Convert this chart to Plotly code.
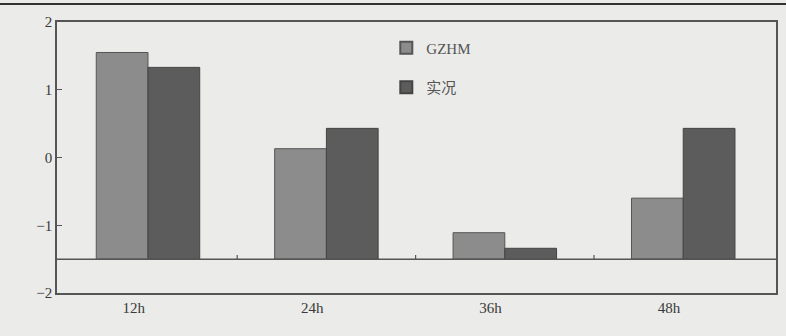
import plotly.graph_objects as go

categories = ["12h", "24h", "36h", "48h"]
gzhm = [1.55, 0.13, -1.11, -0.60]
actual = [1.33, 0.43, -1.34, 0.43]
base_value = -1.5
y_ticks = [2, 1, 0, -1, -2]
y_tick_text = ["2", "1", "0", "\u22121", "\u22122"]

xpos = list(range(len(categories)))

fig = go.Figure()
fig.add_trace(go.Bar(
    x=xpos, y=[v - base_value for v in gzhm], base=base_value, name="GZHM", legendgroup="a",
    marker=dict(color="#8c8c8c", line=dict(color="#555555", width=1)),
    offset=-0.29, width=0.29,
))
fig.add_trace(go.Bar(
    x=xpos, y=[v - base_value for v in actual], base=base_value, name="实况", legendgroup="b",
    marker=dict(color="#5c5c5c", line=dict(color="#444444", width=1)),
    offset=0.0, width=0.29,
))

shapes = [
    dict(type="line", xref="paper", yref="y", x0=0, x1=1, y0=base_value, y1=base_value,
         line=dict(color="#555555", width=1.5)),
    dict(type="line", xref="paper", yref="paper", x0=-0.08, x1=1.02, y0=1.066, y1=1.066,
         line=dict(color="#333333", width=2)),
]
for k in range(len(categories) - 1):
    shapes.append(dict(type="line", xref="x", yref="y", x0=k + 0.5, x1=k + 0.5,
                       y0=base_value, y1=base_value + 0.06,
                       line=dict(color="#555555", width=1.2)))

fig.update_layout(
    width=786, height=336,
    margin=dict(l=57, r=8, t=22, b=43),
    paper_bgcolor="#ebebe9",
    plot_bgcolor="#ebebe9",
    font=dict(family="Liberation Serif", size=15, color="#3a3a3a"),
    barmode="overlay",
    showlegend=True,
    legend=dict(x=0.458, y=0.965, xanchor="left", yanchor="top",
                bgcolor="rgba(0,0,0,0)",
                font=dict(family="Liberation Serif, Noto Sans CJK SC", size=15, color="#555555"),
                itemsizing="constant", tracegroupgap=17),
    shapes=shapes,
)
fig.update_xaxes(
    range=[-0.51, 3.52], tickmode="array", tickvals=[i - 0.08 for i in xpos], ticktext=categories,
    showgrid=False, zeroline=False, showline=True, linecolor="#555555", linewidth=1.5,
    mirror=True, ticks="", ticklen=0,
)
fig.update_yaxes(
    range=[-2, 2], tickmode="array", tickvals=y_ticks, ticktext=y_tick_text,
    showgrid=False, zeroline=False, showline=True, linecolor="#555555", linewidth=1.5,
    mirror=True, ticks="inside", ticklen=5, tickcolor="#555555",
)

fig.write_html("out.html", config={"displayModeBar": False},
               post_script="document.body.style.margin='0';document.body.style.background='#ebebe9';")
